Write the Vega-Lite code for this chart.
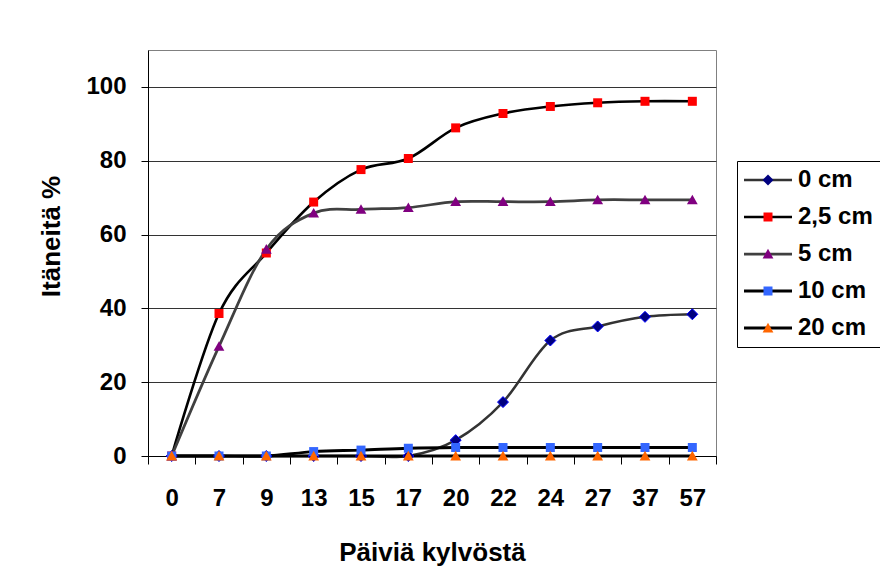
{
  "$schema": "https://vega.github.io/schema/vega-lite/v6.json",
  "width": 568,
  "height": 406,
  "autosize": {"type": "none"},
  "padding": {"left": 148, "top": 50, "right": 164, "bottom": 126},
  "background": "white",
  "config": {
    "view": {"stroke": "#808080", "strokeWidth": 1},
    "font": "Liberation Sans"
  },
  "data": {
    "values": [
      {"day": "0", "series": "0 cm", "value": 0},
      {"day": "7", "series": "0 cm", "value": 0},
      {"day": "9", "series": "0 cm", "value": 0},
      {"day": "13", "series": "0 cm", "value": 0},
      {"day": "15", "series": "0 cm", "value": 0},
      {"day": "17", "series": "0 cm", "value": 0},
      {"day": "20", "series": "0 cm", "value": 4.3},
      {"day": "22", "series": "0 cm", "value": 14.6},
      {"day": "24", "series": "0 cm", "value": 31.3},
      {"day": "27", "series": "0 cm", "value": 35.1},
      {"day": "37", "series": "0 cm", "value": 37.7},
      {"day": "57", "series": "0 cm", "value": 38.4},
      {"day": "0", "series": "2,5 cm", "value": 0},
      {"day": "7", "series": "2,5 cm", "value": 38.6},
      {"day": "9", "series": "2,5 cm", "value": 55},
      {"day": "13", "series": "2,5 cm", "value": 68.8},
      {"day": "15", "series": "2,5 cm", "value": 77.6},
      {"day": "17", "series": "2,5 cm", "value": 80.6},
      {"day": "20", "series": "2,5 cm", "value": 88.9},
      {"day": "22", "series": "2,5 cm", "value": 92.8},
      {"day": "24", "series": "2,5 cm", "value": 94.7},
      {"day": "27", "series": "2,5 cm", "value": 95.7},
      {"day": "37", "series": "2,5 cm", "value": 96.1},
      {"day": "57", "series": "2,5 cm", "value": 96.1},
      {"day": "0", "series": "5 cm", "value": 0},
      {"day": "7", "series": "5 cm", "value": 29.7},
      {"day": "9", "series": "5 cm", "value": 56},
      {"day": "13", "series": "5 cm", "value": 65.8},
      {"day": "15", "series": "5 cm", "value": 66.8},
      {"day": "17", "series": "5 cm", "value": 67.3},
      {"day": "20", "series": "5 cm", "value": 68.9},
      {"day": "22", "series": "5 cm", "value": 68.9},
      {"day": "24", "series": "5 cm", "value": 68.9},
      {"day": "27", "series": "5 cm", "value": 69.4},
      {"day": "37", "series": "5 cm", "value": 69.4},
      {"day": "57", "series": "5 cm", "value": 69.4},
      {"day": "0", "series": "10 cm", "value": 0},
      {"day": "7", "series": "10 cm", "value": 0},
      {"day": "9", "series": "10 cm", "value": 0},
      {"day": "13", "series": "10 cm", "value": 1.2},
      {"day": "15", "series": "10 cm", "value": 1.6},
      {"day": "17", "series": "10 cm", "value": 2.1},
      {"day": "20", "series": "10 cm", "value": 2.3},
      {"day": "22", "series": "10 cm", "value": 2.3},
      {"day": "24", "series": "10 cm", "value": 2.3},
      {"day": "27", "series": "10 cm", "value": 2.3},
      {"day": "37", "series": "10 cm", "value": 2.3},
      {"day": "57", "series": "10 cm", "value": 2.3},
      {"day": "0", "series": "20 cm", "value": 0},
      {"day": "7", "series": "20 cm", "value": 0},
      {"day": "9", "series": "20 cm", "value": 0},
      {"day": "13", "series": "20 cm", "value": 0},
      {"day": "15", "series": "20 cm", "value": 0},
      {"day": "17", "series": "20 cm", "value": 0},
      {"day": "20", "series": "20 cm", "value": 0},
      {"day": "22", "series": "20 cm", "value": 0},
      {"day": "24", "series": "20 cm", "value": 0},
      {"day": "27", "series": "20 cm", "value": 0},
      {"day": "37", "series": "20 cm", "value": 0},
      {"day": "57", "series": "20 cm", "value": 0}
    ]
  },
  "encoding": {
    "x": {
      "field": "day",
      "type": "ordinal",
      "sort": null,
      "scale": {"type": "band", "domain": ["0","7","9","13","15","17","20","22","24","27","37","57"], "paddingInner": 0, "paddingOuter": 0},
      "axis": {
        "title": "Päiviä kylvöstä",
        "titleFont": "Liberation Sans",
        "titleFontSize": 26,
        "titleFontWeight": "bold",
        "titleColor": "black",
        "titleBaseline": "alphabetic",
        "titleY": 104,
        "labelAngle": 0,
        "labelFont": "Liberation Sans",
        "labelFontSize": 24,
        "labelFontWeight": "bold",
        "labelColor": "black",
        "labelPadding": 22,
        "tickBand": "extent",
        "tickSize": 8,
        "tickColor": "black",
        "domainColor": "black",
        "grid": false
      }
    },
    "y": {
      "field": "value",
      "type": "quantitative",
      "scale": {"domain": [0, 110], "nice": false},
      "axis": {
        "title": "Itäneitä %",
        "titleFont": "Liberation Sans",
        "titleFontSize": 26,
        "titleFontWeight": "bold",
        "titleColor": "black",
        "titleAngle": -90,
        "titleAlign": "center",
        "titleBaseline": "middle",
        "titleX": -97,
        "titleY": 186,
        "values": [0, 20, 40, 60, 80, 100],
        "labelFont": "Liberation Sans",
        "labelFontSize": 24,
        "labelFontWeight": "bold",
        "labelColor": "black",
        "labelPadding": 15,
        "tickSize": 7,
        "tickColor": "black",
        "domainColor": "black",
        "grid": true,
        "gridColor": "#333333",
        "gridWidth": 1
      }
    }
  },
  "layer": [
    {
      "mark": {"type": "line", "interpolate": "cardinal", "tension": 0},
      "encoding": {
        "stroke": {
          "field": "series",
          "type": "nominal",
          "scale": {"domain": ["0 cm", "2,5 cm", "5 cm", "10 cm", "20 cm"], "range": ["#333333", "#000000", "#404040", "#000000", "#000000"]},
          "legend": {
            "orient": "none",
            "legendX": 589,
            "legendY": 111,
            "title": null,
            "symbolType": "M-2.4,0H2.4",
            "symbolSize": 400,
            "symbolOffset": 12,
            "labelOffset": 18,
            "labelFont": "Liberation Sans",
            "labelFontSize": 24,
            "labelFontWeight": "bold",
            "labelColor": "transparent",
            "rowPadding": 13,
            "padding": 7,
            "strokeColor": "black",
            "encode": {"symbols": {"update": {"strokeWidth": {"signal": "datum.value === '20 cm' ? 4 : 2.5"}}}}
          }
        },
        "strokeWidth": {
          "field": "series",
          "type": "nominal",
          "scale": {"domain": ["0 cm", "2,5 cm", "5 cm", "10 cm", "20 cm"], "range": [2.5, 3, 2.5, 2.5, 4.5]},
          "legend": null
        }
      }
    },
    {
      "mark": {"type": "point", "filled": true, "opacity": 1, "size": 400, "strokeWidth": 1},
      "encoding": {
        "fill": {
          "field": "series",
          "type": "nominal",
          "scale": {"domain": ["0 cm", "2,5 cm", "5 cm", "10 cm", "20 cm"], "range": ["#000080", "#FF0000", "#800080", "#3366FF", "#FF6600"]},
          "legend": null
        },
        "shape": {
          "field": "series",
          "type": "nominal",
          "scale": {"domain": ["0 cm", "2,5 cm", "5 cm", "10 cm", "20 cm"], "range": ["M0,-0.55L0.55,0L0,0.55L-0.55,0Z", "M-0.45,-0.45H0.45V0.45H-0.45Z", "M0,-0.52L0.54,0.44H-0.54Z", "M-0.45,-0.45H0.45V0.45H-0.45Z", "M0,-0.52L0.54,0.44H-0.54Z"]},
          "legend": {
            "orient": "right",
            "offset": 21,
            "title": " ",
            "titleFontSize": 1,
            "titlePadding": 110,
            "symbolSize": 400,
            "symbolOffset": 12,
            "symbolOpacity": 1,
            "labelOffset": 18,
            "labelFont": "Liberation Sans",
            "labelFontSize": 24,
            "labelFontWeight": "bold",
            "labelColor": "black",
            "rowPadding": 13,
            "padding": 7,
            "encode": {"symbols": {"update": {
              "fill": {"scale": "fill", "field": "value"},
              "stroke": {"signal": "datum.value === '0 cm' ? '#0000FF' : 'transparent'"},
              "strokeWidth": {"value": 1},
              "opacity": {"value": 1}
            }}}
          }
        },
        "stroke": {
          "condition": {"test": "datum.series === '0 cm'", "value": "#0000FF"},
          "value": "transparent"
        }
      }
    }
  ]
}
